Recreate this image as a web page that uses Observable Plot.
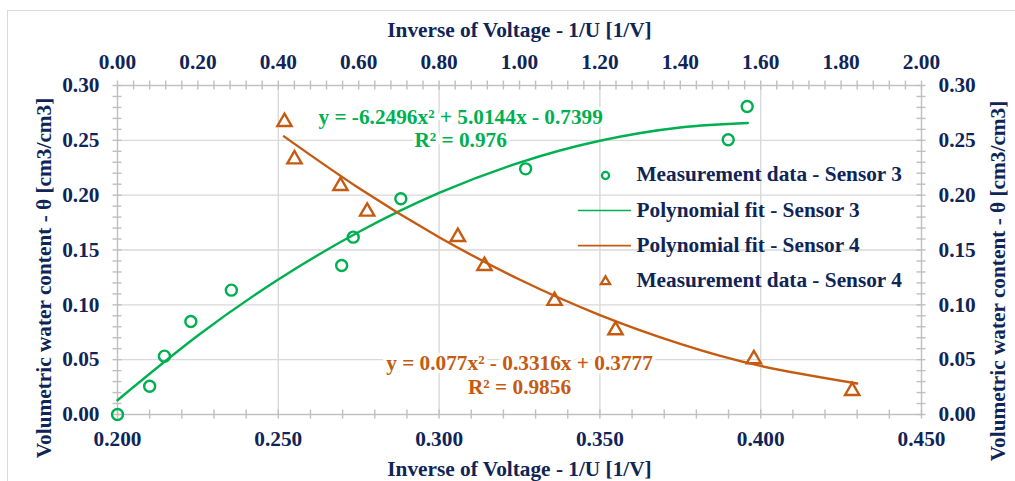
<!DOCTYPE html>
<html>
<head>
<meta charset="utf-8">
<script src="https://cdn.jsdelivr.net/npm/d3@7"></script>
<script src="https://cdn.jsdelivr.net/npm/@observablehq/plot@0.6"></script>
<style>
  html, body { margin: 0; padding: 0; background: #ffffff; }
  #wrap { position: relative; width: 1015px; height: 481px; overflow: hidden; }
  #border { position: absolute; left: 7px; top: 10px; width: 1100px; height: 600px; border: 1px solid #d9d9d9; box-sizing: border-box; }
  #chart { position: absolute; left: 0; top: 0; }
</style>
</head>
<body>
<div id="wrap"><div id="border"></div><div id="chart"></div></div>
<script>
// ---- Data ----
// Sensor 3: plotted against the bottom axis (1/U, 0.200–0.450)
const sensor3X = [0.200, 0.210, 0.2146, 0.2228, 0.2354, 0.2697, 0.2733, 0.2881, 0.3269, 0.3899, 0.3958];
const sensor3Y = [0.000, 0.0258, 0.0532, 0.0848, 0.1134, 0.1359, 0.1617, 0.1967, 0.2240, 0.2505, 0.2808];
// Sensor 4: plotted against the top axis (1/U, 0.00–2.00)
const sensor4X = [0.4154, 0.4403, 0.5547, 0.6211, 0.8466, 0.9129, 1.0871, 1.2388, 1.5830, 1.8276];
const sensor4Y = [0.2687, 0.2346, 0.2103, 0.1869, 0.1638, 0.1374, 0.1055, 0.0787, 0.0523, 0.0234];
// Polynomial fit curves
const fit3X = [0.200, 0.225, 0.250, 0.275, 0.300, 0.325, 0.350, 0.375, 0.396];
const fit3Y = [0.0130, 0.0720, 0.1231, 0.1664, 0.2020, 0.2297, 0.2496, 0.2617, 0.2658];
const fit4X = [0.414, 0.600, 0.800, 1.000, 1.200, 1.400, 1.600, 1.840];
const fit4Y = [0.2536, 0.2065, 0.1617, 0.1231, 0.0907, 0.0644, 0.0443, 0.0283];

const seriesNames = ["Measurement data - Sensor 3", "Polynomial fit - Sensor 3", "Polynomial fit - Sensor 4", "Measurement data - Sensor 4"];
const eq3 = ["y = -6.2496x² + 5.0144x - 0.7399", "R² = 0.976"];
const eq4 = ["y = 0.077x² - 0.3316x + 0.3777", "R² = 0.9856"];

const bottomTicks = [0.200, 0.250, 0.300, 0.350, 0.400, 0.450];
const topTicks = [0.00, 0.20, 0.40, 0.60, 0.80, 1.00, 1.20, 1.40, 1.60, 1.80, 2.00];
const yTicks = [0.00, 0.05, 0.10, 0.15, 0.20, 0.25, 0.30];

const titleX = "Inverse of Voltage - 1/U [1/V]";
const titleY = "Volumetric water content - θ [cm3/cm3]";

// ---- Styles ----
const GREEN = "#00b050", ORANGE = "#c55a11", NAVY = "#0f2557";
const GRID = "#d9d9d9", AXIS = "#bfbfbf";
const FS = 21.3;

// top axis (0–2) maps linearly onto the bottom axis range (0.2–0.45)
const topToBottom = v => 0.2 + v * (0.25 / 2);

const s3 = sensor3X.map((x, i) => ({x, y: sensor3Y[i]}));
const s4 = sensor4X.map((x, i) => ({x: topToBottom(x), y: sensor4Y[i]}));
const f3 = fit3X.map((x, i) => ({x, y: fit3Y[i]}));
const f4 = fit4X.map((x, i) => ({x: topToBottom(x), y: fit4Y[i]}));

const minorBottom = d3.range(0, 26).map(i => 0.2 + i * 0.01);
const minorTop = d3.range(0, 51).map(i => topToBottom(i * 0.04));
const minorY = d3.range(0, 31).map(i => i * 0.01);

const tx = 0.0041, ty = 0.0014; // half tick lengths in data units

const legendRows = [174, 210, 245, 280];

const marks = [
  Plot.gridX(bottomTicks.slice(1, -1), {stroke: GRID, strokeOpacity: 1, strokeWidth: 1.4}),
  Plot.gridY(yTicks.slice(1, -1), {stroke: GRID, strokeOpacity: 1, strokeWidth: 1.4}),
  Plot.frame({stroke: AXIS, strokeWidth: 1.4}),
  Plot.ruleX(minorBottom, {x: d => d, y1: () => -tx, y2: () => tx, stroke: AXIS, strokeWidth: 1.4}),
  Plot.ruleX(minorTop, {x: d => d, y1: () => 0.3 - tx, y2: () => 0.3 + tx, stroke: AXIS, strokeWidth: 1.4}),
  Plot.ruleY(minorY, {y: d => d, x1: () => 0.2 - ty, x2: () => 0.2 + ty, stroke: AXIS, strokeWidth: 1.4}),
  Plot.ruleY(minorY, {y: d => d, x1: () => 0.45 - ty, x2: () => 0.45 + ty, stroke: AXIS, strokeWidth: 1.4}),
  Plot.axisX(bottomTicks, {anchor: "bottom", tickSize: 0, tickPadding: 16, tickFormat: d3.format(".3f"), fontSize: FS, label: null}),
  Plot.axisX(topTicks.map(topToBottom), {anchor: "top", tickSize: 0, tickPadding: 17, tickFormat: d => ((d - 0.2) * 8).toFixed(2), fontSize: FS, label: null}),
  Plot.axisY(yTicks, {anchor: "left", tickSize: 0, tickPadding: 18, tickFormat: d3.format(".2f"), fontSize: FS, label: null}),
  Plot.axisY(yTicks, {anchor: "right", tickSize: 0, tickPadding: 17, tickFormat: d3.format(".2f"), fontSize: FS, label: null}),
  // axis titles
  Plot.text([titleX], {frameAnchor: "top", lineAnchor: "middle", textAnchor: "middle", dy: -55, fontSize: FS, fill: NAVY}),
  Plot.text([titleX], {frameAnchor: "bottom", lineAnchor: "middle", textAnchor: "middle", dy: 54.5, fontSize: FS, fill: NAVY}),
  Plot.text([titleY], {frameAnchor: "left", lineAnchor: "middle", textAnchor: "middle", rotate: -90, dx: -73.5, dy: 28, fontSize: FS, fill: NAVY}),
  Plot.text([titleY], {frameAnchor: "right", lineAnchor: "middle", textAnchor: "middle", rotate: -90, dx: 77, dy: 31, fontSize: FS, fill: NAVY}),
  // equations
  Plot.text([eq3[0]], {x: () => 0.3067, y: () => 0.2713, fontSize: FS, fill: GREEN, stroke: "white", strokeWidth: 7}),
  Plot.text([eq3[1]], {x: () => 0.3067, y: () => 0.2498, fontSize: FS, fill: GREEN, stroke: "white", strokeWidth: 7}),
  Plot.text([eq4[0]], {x: () => 0.325, y: () => 0.0465, fontSize: FS, fill: ORANGE, stroke: "white", strokeWidth: 7}),
  Plot.text([eq4[1]], {x: () => 0.325, y: () => 0.0251, fontSize: FS, fill: ORANGE, stroke: "white", strokeWidth: 7}),
  // fit lines
  Plot.line(f3, {x: "x", y: "y", stroke: GREEN, strokeWidth: 2.4, curve: "natural"}),
  Plot.line(f4, {x: "x", y: "y", stroke: ORANGE, strokeWidth: 2.4, curve: "natural"}),
  // measurement points
  Plot.dot(s3, {x: "x", y: "y", r: 5.5, stroke: GREEN, strokeWidth: 2.4, fill: "none"}),
  Plot.dot(s4, {x: "x", y: "y", symbol: "triangle", r: 5.3, dy: 2, stroke: ORANGE, strokeWidth: 2.4, fill: "none"}),
  // legend
  Plot.dot([0], {frameAnchor: "top-left", dx: 605 - 117, dy: 175 - 85, r: 3.6, stroke: GREEN, strokeWidth: 2.3, fill: "none"}),
  Plot.ruleY([0.186], {x1: () => 0.3433, x2: () => 0.3598, stroke: GREEN, strokeWidth: 1.6}),
  Plot.ruleY([0.154], {x1: () => 0.3433, x2: () => 0.3598, stroke: ORANGE, strokeWidth: 1.6}),
  Plot.dot([0], {frameAnchor: "top-left", dx: 605 - 117, dy: 281 - 85, r: 3.4, symbol: "triangle", stroke: ORANGE, strokeWidth: 2.3, fill: "none"}),
  ...seriesNames.map((name, i) =>
    Plot.text([name], {frameAnchor: "top-left", lineAnchor: "middle", textAnchor: "start", dx: 636 - 117, dy: legendRows[i] - 85, fontSize: FS, fill: NAVY}))
];

const chart = Plot.plot({
  width: 1015,
  height: 481,
  marginLeft: 117,
  marginRight: 94,
  marginTop: 85,
  marginBottom: 67,
  x: {domain: [0.2, 0.45], axis: null},
  y: {domain: [0, 0.3], axis: null},
  style: {fontFamily: "'Liberation Serif', 'Times New Roman', serif", fontWeight: "bold", fontSize: FS + "px", color: NAVY, background: "transparent", overflow: "visible"},
  marks
});
document.getElementById("chart").appendChild(chart);
</script>
</body>
</html>
